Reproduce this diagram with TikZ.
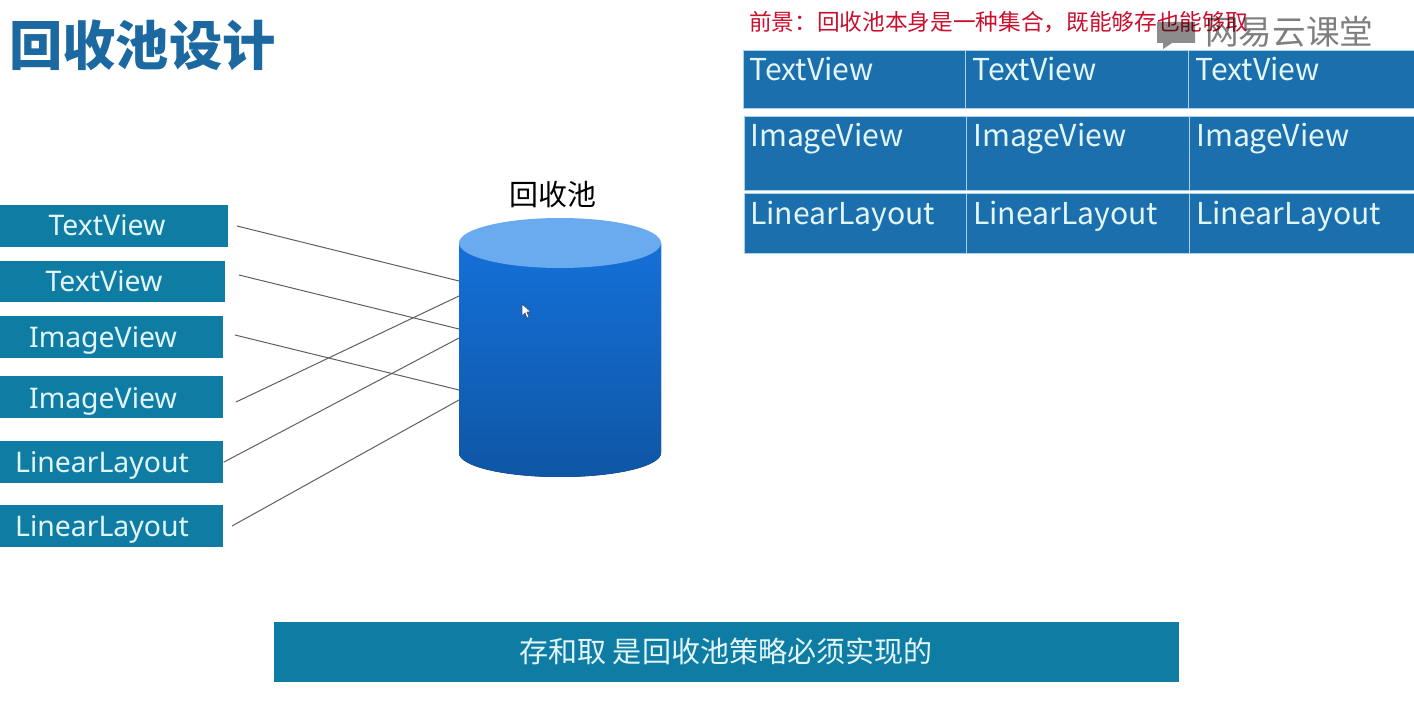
\documentclass[tikz,border=0pt]{standalone}
\usepackage{fontspec}
\setmainfont{Noto Sans CJK SC}
\newfontfamily\labelfont{Noto Sans}
\definecolor{titleblue}{RGB}{28,104,160}
\definecolor{boxteal}{RGB}{15,124,164}
\definecolor{cellblue}{RGB}{28,111,173}
\definecolor{cellline}{RGB}{170,210,240}
\definecolor{paletext}{RGB}{226,246,250}
\definecolor{poolTop}{RGB}{105,171,238}
\definecolor{poolUpper}{RGB}{20,112,216}
\definecolor{poolLower}{RGB}{15,86,165}
\definecolor{alertred}{RGB}{200,16,46}
\tikzset{
  itembox/.style={fill=boxteal,anchor=north west,inner sep=0pt},
  itemtext/.style={anchor=base,inner sep=0pt,text=paletext,font=\labelfont\fontsize{21.3}{26}\selectfont},
  cellbox/.style={fill=cellblue,draw=cellline,line width=0.5pt},
  celltext/.style={anchor=base west,inner sep=0pt,text=paletext,font=\fontsize{22.6}{26}\selectfont},
  wire/.style={draw={rgb,255:red,95;green,95;blue,95},line width=0.75pt}
}
\begin{document}
\begin{tikzpicture}[x=0.75pt,y=0.75pt,yscale=-1,xscale=1]
\useasboundingbox (0,0) rectangle (1414,709);

%Title
\node (title) [anchor=west,inner sep=0pt,text=titleblue,font=\fontsize{40}{46}\selectfont\bfseries] at (9,45) {回收池设计};
\node (note) [anchor=west,inner sep=0pt,text=alertred,font=\fontsize{17}{20}\selectfont] at (749,22) {前景：回收池本身是一种集合，既能够存也能够取};

%Left boxes
\node (tvboxa) [itembox,minimum width=171pt,minimum height=31.5pt] at (0,205) {};
\node (tvboxb) [itembox,minimum width=168.75pt,minimum height=30.75pt] at (0,261) {};
\node (ivboxa) [itembox,minimum width=167.25pt,minimum height=31.5pt] at (0,316) {};
\node (ivboxb) [itembox,minimum width=167.25pt,minimum height=31.5pt] at (0,376) {};
\node (llboxa) [itembox,minimum width=167.25pt,minimum height=31.5pt] at (0,441) {};
\node (llboxb) [itembox,minimum width=167.25pt,minimum height=31.5pt] at (0,505) {};
\node (tvtexta) [itemtext] at (107,236) {TextView};
\node (tvtextb) [itemtext] at (104,292) {TextView};
\node (ivtexta) [itemtext] at (103,348) {ImageView};
\node (ivtextb) [itemtext] at (103,408) {ImageView};
\node (lltexta) [itemtext] at (102,472) {LinearLayout};
\node (lltextb) [itemtext] at (102,536) {LinearLayout};

%Pool
\fill [top color=poolUpper,bottom color=poolLower] (459,243) -- (459,453) arc [start angle=180,end angle=0,x radius=101,y radius=24] -- (661,243) -- cycle;
\fill [poolTop] (560,243) ellipse [x radius=101,y radius=25];
\node (pooltitle) [inner sep=0pt,font=\fontsize{21.7}{26}\selectfont] at (553,195) {回收池};

%Cursor
\filldraw [fill=white,draw={rgb,255:red,60;green,80;blue,120},line width=0.5pt] (522,304) -- (522,316) -- (525,313) -- (527,318) -- (529,317) -- (527,312) -- (531,312) -- cycle;

%Wires
\coordinate (wirea) at (237,226);
\coordinate (wireb) at (239,275);
\coordinate (wirec) at (235,335);
\coordinate (wired) at (236,402);
\coordinate (wiree) at (232,526);
\coordinate (poola) at (459,281);
\coordinate (poolb) at (459,329);
\coordinate (poolc) at (459,390);
\coordinate (poold) at (459,296);
\coordinate (poole) at (459,338);
\coordinate (poolf) at (459,400);
\draw [wire] (wirea) -- (poola);
\draw [wire] (wireb) -- (poolb);
\draw [wire] (wirec) -- (poolc);
\draw [wire] (wired) -- (poold);
\draw [wire] (llboxa.east) -- (poole);
\draw [wire] (wiree) -- (poolf);

%Table
\fill [cellbox] (743,50) rectangle (965,108);
\fill [cellbox] (965,50) rectangle (1188,108);
\fill [cellbox] (1188,50) rectangle (1414,108);
\fill [cellbox] (744,116) rectangle (966,190);
\fill [cellbox] (966,116) rectangle (1189,190);
\fill [cellbox] (1189,116) rectangle (1414,190);
\fill [cellbox] (744,193) rectangle (966,253);
\fill [cellbox] (966,193) rectangle (1189,253);
\fill [cellbox] (1189,193) rectangle (1414,253);
\node (cellaa) [celltext] at (749,81) {TextView};
\node (cellab) [celltext] at (972,81) {TextView};
\node (cellac) [celltext] at (1195,81) {TextView};
\node (cellba) [celltext] at (750,147) {ImageView};
\node (cellbb) [celltext] at (973,147) {ImageView};
\node (cellbc) [celltext] at (1196,147) {ImageView};
\node (cellca) [celltext] at (750,225) {LinearLayout};
\node (cellcb) [celltext] at (973,225) {LinearLayout};
\node (cellcc) [celltext] at (1196,225) {LinearLayout};

%Bottom bar
\node (bar) [fill=boxteal,anchor=north west,inner sep=0pt,minimum width=678.75pt,minimum height=45pt] at (274,622) {};
\node (bartext) [inner sep=0pt,text=paletext,font=\fontsize{21.8}{26}\selectfont] at (726,651) {存和取 是回收池策略必须实现的};

%Watermark
\fill [black,opacity=0.45] (1157,22) -- (1195,22) -- (1195,43) -- (1172,43) -- (1163,49) -- (1163,43) -- (1157,43) -- cycle;
\node (mark) [anchor=west,inner sep=0pt,opacity=0.5,font=\fontsize{25.2}{30}\selectfont] at (1205,32) {网易云课堂};

\end{tikzpicture}
\end{document}
